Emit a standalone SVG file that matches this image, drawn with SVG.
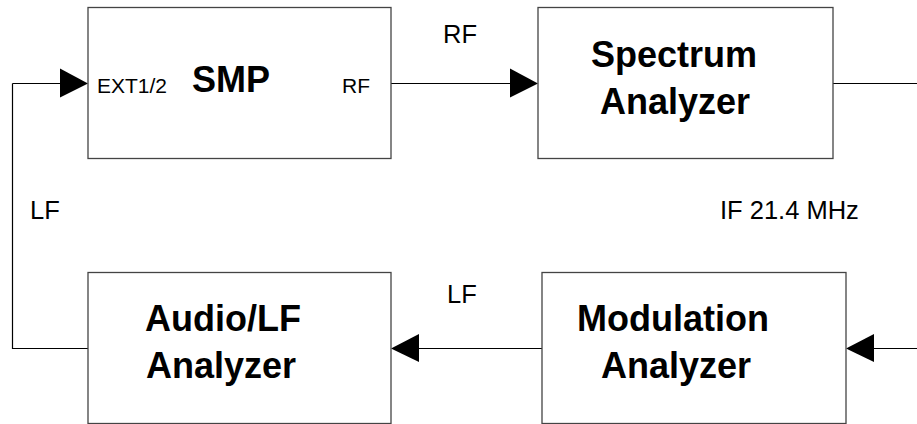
<svg xmlns="http://www.w3.org/2000/svg" width="917" height="424" viewBox="0 0 917 424">
<style>
.box{fill:#fff;stroke:#444;stroke-width:1.3}
.ln{fill:none;stroke:#000;stroke-width:1.2}
.ah{fill:#000}
.t{font-family:"Liberation Sans",Arial,sans-serif;fill:#000}
.b{font-family:"Liberation Sans",Arial,sans-serif;font-weight:bold;font-size:36px;fill:#000;text-anchor:middle}
.p{font-size:21px}
.l{font-size:25.5px}
</style>
<rect width="917" height="424" fill="#fff"/>
<g id="connectors">
<path class="ln" d="M391 83.5H512"/>
<polygon class="ah" points="510,68.5 538,83.5 510,97.5"/>
<path class="ln" d="M833 83.5H917"/>
<path class="ln" d="M12.5 83.5V348.5H88"/>
<path class="ln" d="M12.5 83.5H62"/>
<polygon class="ah" points="60,68.5 88,83.5 60,97.5"/>
<path class="ln" d="M542 348.5H417"/>
<polygon class="ah" points="419,334 391,348.5 419,362"/>
<path class="ln" d="M917 348.5H872"/>
<polygon class="ah" points="874,334 846,348.5 874,362"/>
<text class="t l" x="443" y="43">RF</text>
<text class="t l" x="30" y="219">LF</text>
<text class="t l" x="720" y="219">IF 21.4 MHz</text>
<text class="t l" x="447" y="303">LF</text>
</g>
<g id="smp">
<rect class="box" x="88" y="7.5" width="303" height="151"/>
<text class="t p" x="97" y="93">EXT1/2</text>
<text class="b" x="231" y="92">SMP</text>
<text class="t p" x="342" y="93">RF</text>
</g>
<g id="spectrum">
<rect class="box" x="538" y="7.5" width="295" height="151"/>
<text class="b" x="674" y="67">Spectrum</text>
<text class="b" x="675" y="114">Analyzer</text>
</g>
<g id="audio">
<rect class="box" x="88" y="272.5" width="303" height="151"/>
<text class="b" x="223" y="331">Audio/LF</text>
<text class="b" x="221" y="378">Analyzer</text>
</g>
<g id="modulation">
<rect class="box" x="542" y="272.5" width="304" height="151"/>
<text class="b" x="673" y="331">Modulation</text>
<text class="b" x="676" y="378">Analyzer</text>
</g>
</svg>
